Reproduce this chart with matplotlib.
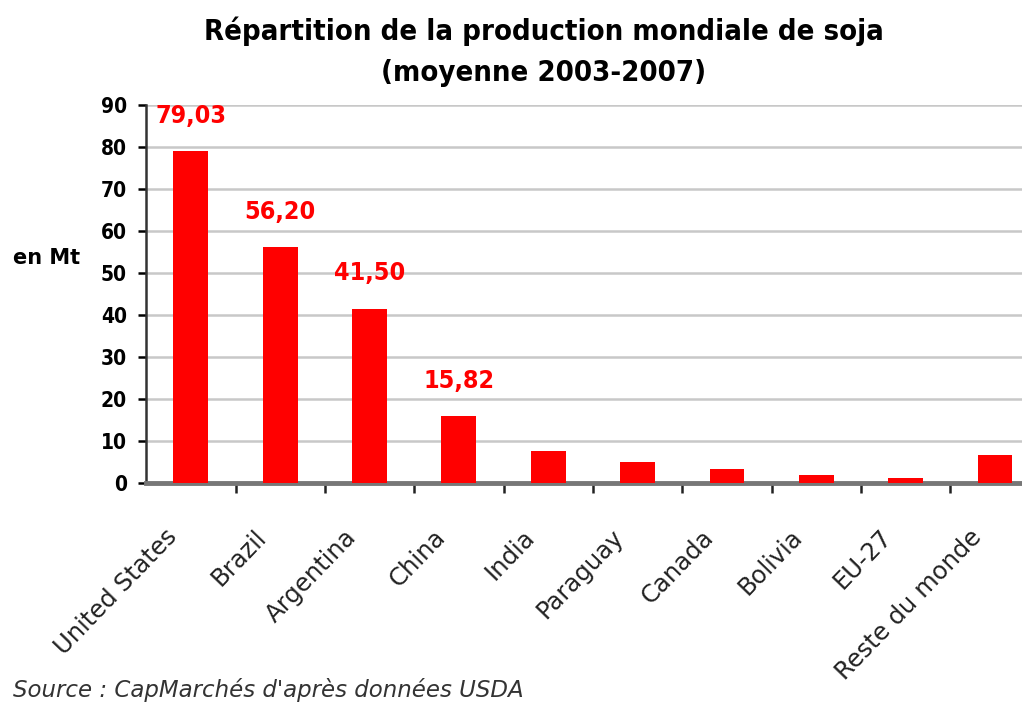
import matplotlib.pyplot as plt
from matplotlib import transforms
import numpy as np

# données (Mt, moyenne 2003-2007)
countries = ['United States', 'Brazil', 'Argentina', 'China', 'India', 'Paraguay',
             'Canada', 'Bolivia', 'EU-27', 'Reste du monde']
production = [79.03, 56.20, 41.50, 15.82, 7.6, 5.1, 3.4, 2.0, 1.2, 6.6]
labelled = [0, 1, 2, 3]  # bars with a value label

plt.rcParams['font.family'] = ['DejaVu Sans']

fig = plt.figure(figsize=(10.22, 7.03), dpi=100)
ax = fig.add_axes([0.143, 0.313, 0.87, 0.538])

x = np.arange(len(countries))
ax.bar(x, production, width=0.39, color='#ff0000', zorder=3)

for i in labelled:
    ax.text(x[i], production[i] + 5.5, f'{production[i]:.2f}'.replace('.', ','),
            ha='center', va='bottom', color='#ff0000', fontsize=18,
            fontweight='bold', fontstretch='condensed')

ax.set_ylim(0, 90)
ax.set_xlim(-0.5, 9.45)
ax.set_yticks(np.arange(0, 91, 10))
ax.yaxis.grid(True, color='#c8c8c8', linewidth=1.8, zorder=0)
ax.tick_params(axis='y', labelsize=15, length=6, width=1.8, direction='out', pad=8)
for lab in ax.get_yticklabels():
    lab.set_fontweight('bold')
    lab.set_fontstretch('condensed')

# category labels at bar centres, tick marks between categories
ax.set_xticks(x)
ax.set_xticklabels(countries, rotation=46, ha='right', va='top',
                   rotation_mode='anchor', fontsize=17.5, color='#222222')
ax.tick_params(axis='x', length=0, pad=0)
shift = transforms.ScaledTranslation(-26 / 100, -42 / 100, fig.dpi_scale_trans)
for lab in ax.get_xticklabels():
    lab.set_transform(lab.get_transform() + shift)
ax.set_xticks(np.arange(0.5, 9.5, 1), minor=True)
ax.tick_params(axis='x', which='minor', length=7, width=1.8, color='#222222')

for s in ['top', 'right']:
    ax.spines[s].set_visible(False)
ax.spines['left'].set_color('#333333')
ax.spines['left'].set_linewidth(1.8)
ax.spines['bottom'].set_color('#777777')
ax.spines['bottom'].set_linewidth(3.5)

fig.text(0.013, 0.633, 'en Mt', fontsize=15, fontweight='bold', va='center', ha='left')

fig.text(0.532, 0.956, 'Répartition de la production mondiale de soja', fontsize=21,
         fontweight='bold', fontstretch='condensed', ha='center', va='center')
fig.text(0.532, 0.896, '(moyenne 2003-2007)', fontsize=21,
         fontweight='bold', fontstretch='condensed', ha='center', va='center')

fig.text(0.013, 0.0185, "Source : CapMarchés d'après données USDA", fontsize=16.5,
         style='italic', color='#333333', ha='left', va='center')

fig.savefig('out.png', dpi=100)
